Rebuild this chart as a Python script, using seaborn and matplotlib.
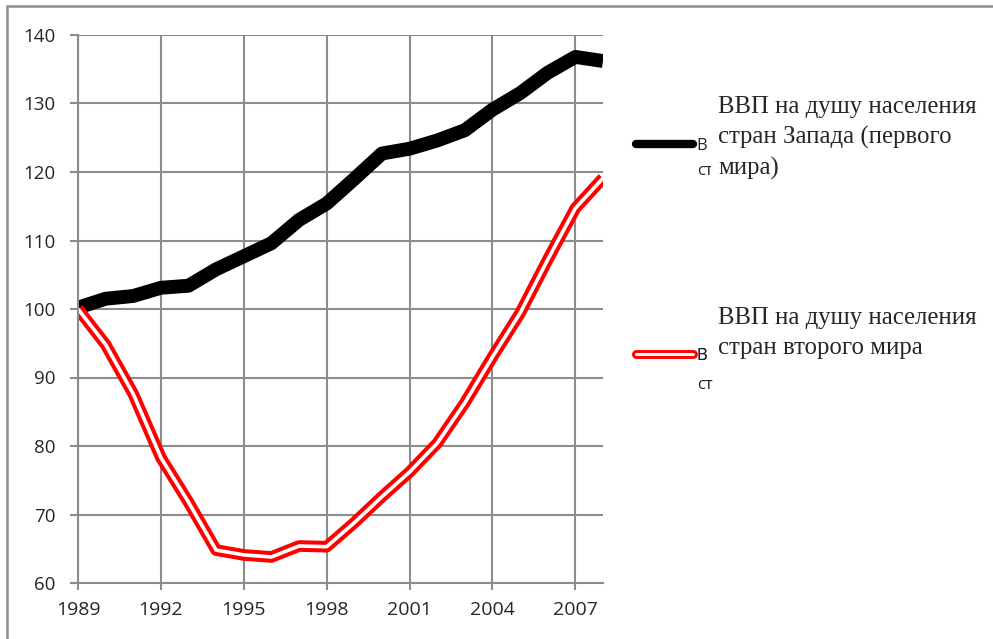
import matplotlib
matplotlib.use("Agg")
import matplotlib.pyplot as plt
import matplotlib.patheffects as pe
from matplotlib.patches import Rectangle
import seaborn as sns

years = [1989, 1990, 1991, 1992, 1993, 1994, 1995, 1996, 1997, 1998,
         1999, 2000, 2001, 2002, 2003, 2004, 2005, 2006, 2007, 2008]
gdp_west = [100.2, 101.5, 101.9, 103.1, 103.4, 105.8, 107.7, 109.6, 113.0, 115.4,
            119.0, 122.7, 123.4, 124.6, 126.1, 129.1, 131.5, 134.5, 136.8, 136.2]
gdp_second = [100.0, 94.8, 87.6, 78.3, 71.8, 64.8, 64.1, 63.8, 65.4, 65.3,
              68.8, 72.6, 76.2, 80.4, 86.3, 93.0, 99.4, 107.2, 114.7, 119.1]
x_ticks = [1989, 1992, 1995, 1998, 2001, 2004, 2007]
y_ticks = [60, 70, 80, 90, 100, 110, 120, 130, 140]

# legend labels are cut off by the text boxes in the original, only the start shows
legend_first = ["В", "В"]
legend_second = ["ст", "ст"]
text_west = "ВВП на душу населения\nстран Запада (первого\nмира)"
text_second = "ВВП на душу населения\nстран второго мира"

sns.set_style("white")
plt.rcParams["font.family"] = ["Open Sans", "DejaVu Sans"]

grid_col = "#8c8c8c"
W, H = 993, 639

fig = plt.figure(figsize=(W / 100, H / 100), dpi=100)
ax = fig.add_axes([78 / W, 1 - 583 / H, (603 - 78) / W, (583 - 35) / H])

sns.lineplot(x=years, y=gdp_west, ax=ax, color="black", linewidth=10,
             solid_capstyle="butt", solid_joinstyle="round", legend=False)
sns.lineplot(x=years, y=gdp_second, ax=ax, color="white", linewidth=2.6,
             solid_capstyle="butt", solid_joinstyle="round",
             path_effects=[pe.Stroke(linewidth=8.4, foreground="red"), pe.Normal()],
             legend=False)

ax.set_xlim(1989, 2008)
ax.set_ylim(60, 140)
ax.set_xticks(x_ticks)
ax.set_yticks(y_ticks)
ax.set_xlabel("")
ax.set_ylabel("")
ax.set_axisbelow(True)
ax.grid(True, color=grid_col, linewidth=1.5)
for side in ["top", "right"]:
    ax.spines[side].set_visible(False)
for side in ["left", "bottom"]:
    ax.spines[side].set_color(grid_col)
    ax.spines[side].set_linewidth(1.5)
ax.tick_params(axis="y", direction="out", length=6, width=1.5, color=grid_col,
               labelsize=13.5, pad=10, left=True)
ax.tick_params(axis="x", direction="out", length=5, width=1.5, color=grid_col,
               labelsize=14, pad=8, bottom=True)

# legend entries
lines = ax.get_lines()
small = {"family": ["Open Sans", "DejaVu Sans"], "size": 12}
legends = []
for line, lab, yc in zip(lines, legend_first, [146, 356]):
    leg = ax.legend(handles=[line], labels=[lab], loc="center left",
                    bbox_to_anchor=(636 / W, 1 - yc / H), bbox_transform=fig.transFigure,
                    frameon=False, handlelength=3.4, handletextpad=0.2, borderpad=0,
                    borderaxespad=0, prop=small)
    ax.add_artist(leg)
    legends.append(leg)
for h in legends[0].legend_handles:
    h.set_linewidth(6)
    h.set_solid_capstyle("round")
for h in legends[1].legend_handles:
    h.set_linewidth(2.2)
    h.set_path_effects([pe.Stroke(linewidth=6.2, foreground="red"), pe.Normal()])
    h.set_solid_capstyle("round")
for lab, yc in zip(legend_second, [171, 385]):
    fig.text(697 / W, 1 - yc / H, lab, fontsize=12, va="center", ha="left")

box = dict(facecolor="white", edgecolor="none", boxstyle="square,pad=0.3")
fig.text(718 / W, 1 - 138 / H, text_west, family="Liberation Serif", size=17.8,
         va="center", ha="left", linespacing=1.42, bbox=box)
fig.text(718 / W, 1 - 333 / H, text_second, family="Liberation Serif", size=17.8,
         va="center", ha="left", linespacing=1.42, bbox=box)

fig.add_artist(Rectangle((7 / W, -0.05), 1.2, 1.05 - 6 / H, transform=fig.transFigure,
                         fill=False, edgecolor=grid_col, linewidth=1.8))

fig.savefig("out.png", dpi=100)
